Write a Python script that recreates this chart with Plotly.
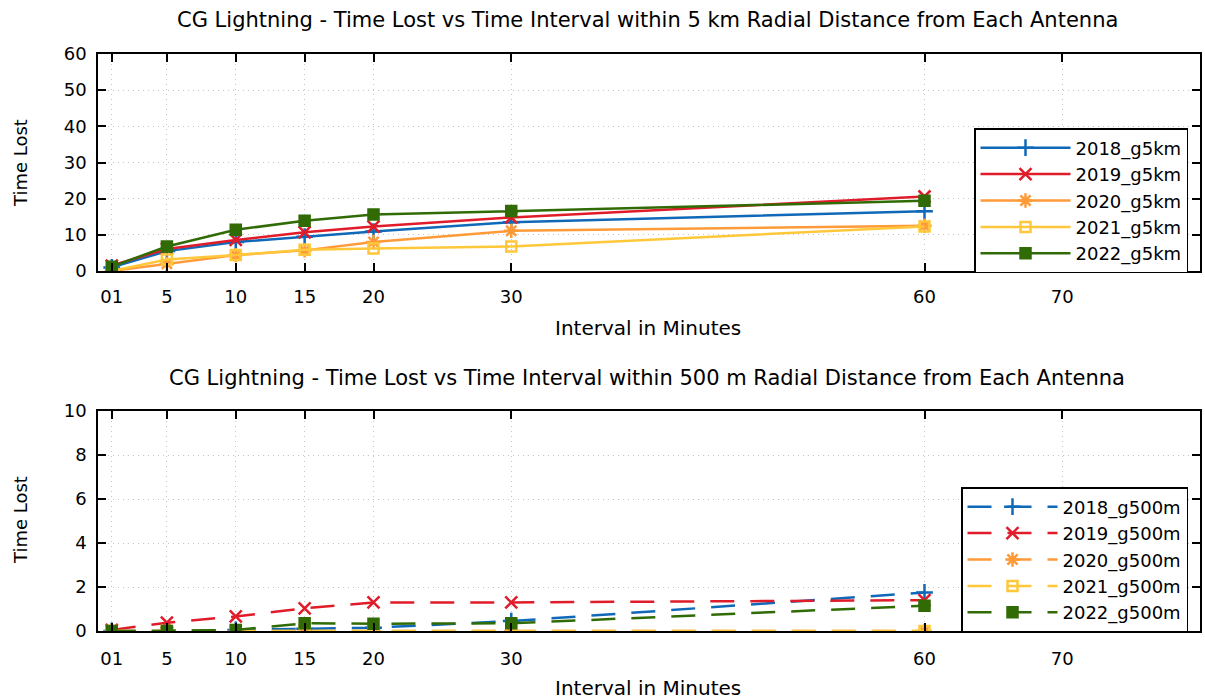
import plotly.graph_objects as go

# Interval (minutes) at which time lost was computed
intervals = [1, 5, 10, 15, 20, 30, 60]

# Time lost, strikes within 5 km of each antenna
g5km_2018 = [1.0, 5.5, 8.0, 9.5, 10.9, 13.5, 16.5]
g5km_2019 = [1.5, 6.1, 8.6, 10.7, 12.3, 14.8, 20.6]
g5km_2020 = [0.0, 2.0, 4.4, 5.7, 8.0, 11.1, 12.5]
g5km_2021 = [0.0, 3.2, 4.4, 5.9, 6.2, 6.8, 12.3]
g5km_2022 = [1.2, 6.8, 11.4, 13.9, 15.6, 16.6, 19.4]

# Time lost, strikes within 500 m of each antenna
g500m_2018 = [0.0, 0.0, 0.05, 0.1, 0.15, 0.45, 1.75]
g500m_2019 = [0.05, 0.38, 0.66, 1.03, 1.3, 1.3, 1.4]
g500m_2020 = [0.0, 0.0, 0.0, 0.0, 0.0, 0.0, 0.0]
g500m_2021 = [0.0, 0.0, 0.0, 0.0, 0.0, 0.0, 0.0]
g500m_2022 = [0.0, 0.0, 0.05, 0.35, 0.33, 0.35, 1.15]

x_tickvals = [1, 5, 10, 15, 20, 30, 60, 70]
x_ticktext = ["01", "5", "10", "15", "20", "30", "60", "70"]

years = ["2018", "2019", "2020", "2021", "2022"]
colors = ["#0f69b8", "#e01c2a", "#ff9a38", "#ffc83a", "#306b06"]
symbols = ["cross-thin-open", "x-thin-open", "asterisk-open", "square-open", "square"]
sizes = [12, 12, 12, 10, 10]

FONT = "DejaVu Sans"
W, H = 1205, 700

top_series = [g5km_2018, g5km_2019, g5km_2020, g5km_2021, g5km_2022]
bot_series = [g500m_2018, g500m_2019, g500m_2020, g500m_2021, g500m_2022]

fig = go.Figure()

for i, yr in enumerate(years):
    fig.add_trace(go.Scatter(
        x=intervals, y=top_series[i], name=f"{yr}_g5km",
        mode="lines+markers", xaxis="x", yaxis="y", legend="legend",
        line=dict(color=colors[i], width=2.5),
        marker=dict(symbol=symbols[i], size=sizes[i], color=colors[i],
                    line=dict(color=colors[i], width=2.5)),
    ))

for i, yr in enumerate(years):
    fig.add_trace(go.Scatter(
        x=intervals, y=bot_series[i], name=f"{yr}_g500m",
        mode="lines+markers", xaxis="x2", yaxis="y2", legend="legend2",
        line=dict(color=colors[i], width=2.5, dash="24px,16px"),
        marker=dict(symbol=symbols[i], size=sizes[i], color=colors[i],
                    line=dict(color=colors[i], width=2.5)),
    ))

def px_x(p):
    return p / W

def px_y(p):
    return 1 - p / H

x_dom = [px_x(98), px_x(1200)]
top_dom = [px_y(271), px_y(54)]
bot_dom = [px_y(631), px_y(411)]

axis_common = dict(
    automargin=False,
    showline=True, linecolor="black", linewidth=1.5, mirror="allticks",
    ticks="inside", ticklen=8, tickwidth=1.5, tickcolor="black",
    showgrid=True, gridcolor="#c4c4c4", griddash="1px,4px", gridwidth=1,
    zeroline=False, tickfont=dict(family=FONT, size=18, color="black"),
)

legend_style = dict(
    xanchor="right", yanchor="top",
    bgcolor="white", bordercolor="black", borderwidth=1.5,
    font=dict(family=FONT, size=18, color="black"),
    itemwidth=90, tracegroupgap=0,
)

fig.update_layout(
    width=W, height=H,
    margin=dict(l=0, r=0, t=0, b=0),
    paper_bgcolor="white", plot_bgcolor="white",
    font=dict(family=FONT, color="black"),
    xaxis=dict(domain=x_dom, anchor="y", range=[0, 80],
               tickvals=x_tickvals, ticktext=x_ticktext,
               ticklabelstandoff=9, **axis_common),
    yaxis=dict(domain=top_dom, anchor="x", range=[0, 60],
               tickvals=[0, 10, 20, 30, 40, 50, 60],
               ticklabelstandoff=6, **axis_common),
    xaxis2=dict(domain=x_dom, anchor="y2", range=[0, 80],
                tickvals=x_tickvals, ticktext=x_ticktext,
                ticklabelstandoff=11, **axis_common),
    yaxis2=dict(domain=bot_dom, anchor="x2", range=[0, 10],
                tickvals=[0, 2, 4, 6, 8, 10],
                ticklabelstandoff=6, **axis_common),
    legend=dict(x=px_x(1188), y=px_y(128), **legend_style),
    legend2=dict(x=px_x(1188), y=px_y(487), **legend_style),
)

def label(text, x, y, size=15, angle=0):
    fig.add_annotation(text=text, x=px_x(x), y=px_y(y), xref="paper", yref="paper",
                       showarrow=False, textangle=angle,
                       font=dict(family=FONT, size=size, color="black"),
                       xanchor="center", yanchor="middle")

label("CG Lightning - Time Lost vs Time Interval within 5 km Radial Distance from Each Antenna", 647, 20, size=21)
label("CG Lightning - Time Lost vs Time Interval within 500 m Radial Distance from Each Antenna", 647, 378, size=21)
label("Interval in Minutes", 648, 328, size=20)
label("Interval in Minutes", 648, 688, size=20)
label("Time Lost", 20, 163, size=18, angle=-90)
label("Time Lost", 20, 520, size=18, angle=-90)

fig.write_html("out.html")
